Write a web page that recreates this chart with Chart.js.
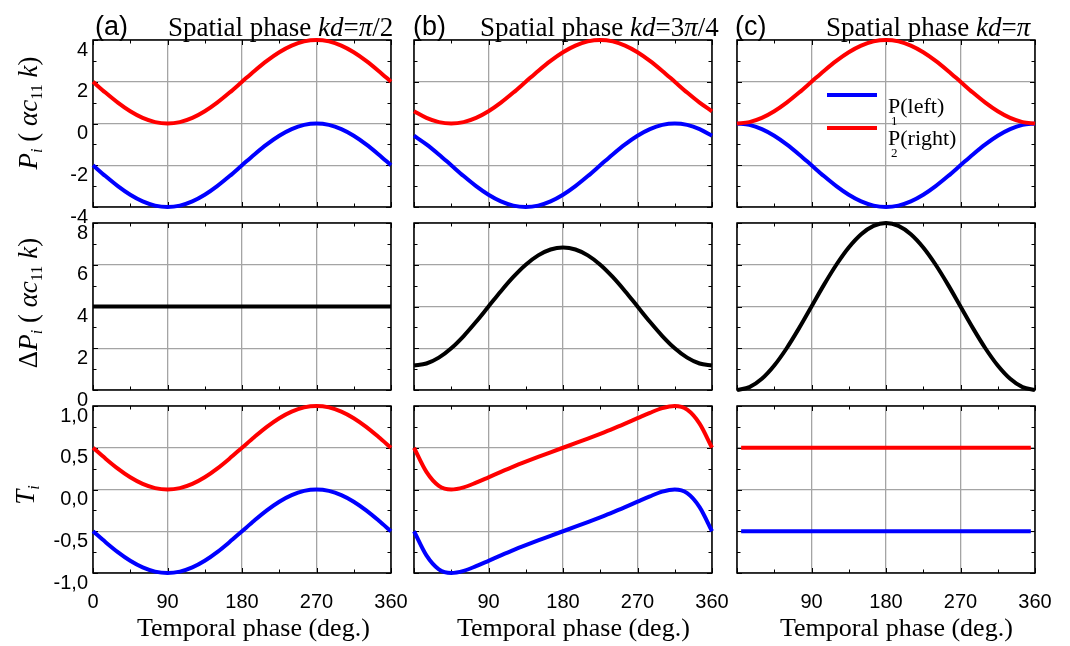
<!DOCTYPE html>
<html><head><meta charset="utf-8">
<script src="https://cdn.jsdelivr.net/npm/chart.js@4.4.1/dist/chart.umd.min.js"></script>
<style>
html,body{margin:0;padding:0;background:#fff;}
body{width:1070px;height:646px;position:relative;overflow:hidden;}
canvas{position:absolute;}
.t{position:absolute;white-space:nowrap;line-height:1;color:#000;}
.serif{font-family:"Liberation Serif","Times New Roman",serif;}
.sans{font-family:"Liberation Sans",Arial,sans-serif;}
.t sub{font-size:0.6em;vertical-align:-0.35em;line-height:0;}
.rot{transform:translate(-50%,-50%) rotate(-90deg);}
.leg{position:absolute;height:4px;width:50px;}
</style>
</head><body>
<script>
// ---------------- data ----------------
const phase = [0,15,30,45,60,75,90,105,120,135,150,165,180,195,210,225,240,255,270,285,300,315,330,345,360];
const phaseTc = [5,90,180,270,355];

const P2a = [2,1.482,1,0.586,0.268,0.068,0,0.068,0.268,0.586,1,1.482,2,2.518,3,3.414,3.732,3.932,4,3.932,3.732,3.414,3,2.518,2];
const P1a = [-2,-2.518,-3,-3.414,-3.732,-3.932,-4,-3.932,-3.732,-3.414,-3,-2.518,-2,-1.482,-1,-0.586,-0.268,-0.068,0,-0.068,-0.268,-0.586,-1,-1.482,-2];
const P2b = [0.586,0.268,0.068,0,0.068,0.268,0.586,1,1.482,2,2.518,3,3.414,3.732,3.932,4,3.932,3.732,3.414,3,2.518,2,1.482,1,0.586];
const P1b = [-0.586,-1,-1.482,-2,-2.518,-3,-3.414,-3.732,-3.932,-4,-3.932,-3.732,-3.414,-3,-2.518,-2,-1.482,-1,-0.586,-0.268,-0.068,0,-0.068,-0.268,-0.586];
const P2c = [0,0.068,0.268,0.586,1,1.482,2,2.518,3,3.414,3.732,3.932,4,3.932,3.732,3.414,3,2.518,2,1.482,1,0.586,0.268,0.068,0];
const P1c = [0,-0.068,-0.268,-0.586,-1,-1.482,-2,-2.518,-3,-3.414,-3.732,-3.932,-4,-3.932,-3.732,-3.414,-3,-2.518,-2,-1.482,-1,-0.586,-0.268,-0.068,0];

const dPa = [4,4,4,4,4,4,4,4,4,4,4,4,4,4,4,4,4,4,4,4,4,4,4,4,4];
const dPb = [1.172,1.268,1.55,2,2.586,3.268,4,4.732,5.414,6,6.449,6.732,6.828,6.732,6.449,6,5.414,4.732,4,3.268,2.586,2,1.55,1.268,1.172];
const dPc = [0,0.136,0.536,1.172,2,2.964,4,5.036,6,6.828,7.464,7.864,8,7.864,7.464,6.828,6,5.036,4,2.964,2,1.172,0.536,0.136,0];

const T2a = [0.5,0.371,0.25,0.146,0.067,0.017,0,0.017,0.067,0.146,0.25,0.371,0.5,0.629,0.75,0.854,0.933,0.983,1,0.983,0.933,0.854,0.75,0.629,0.5];
const T1a = [-0.5,-0.629,-0.75,-0.854,-0.933,-0.983,-1,-0.983,-0.933,-0.854,-0.75,-0.629,-0.5,-0.371,-0.25,-0.146,-0.067,-0.017,0,-0.017,-0.067,-0.146,-0.25,-0.371,-0.5];
const T2b = [0.5,0.211,0.044,0,0.026,0.082,0.146,0.211,0.274,0.333,0.39,0.446,0.5,0.554,0.61,0.667,0.726,0.789,0.854,0.918,0.974,1,0.956,0.789,0.5];
const T1b = [-0.5,-0.789,-0.956,-1,-0.974,-0.918,-0.854,-0.789,-0.726,-0.667,-0.61,-0.554,-0.5,-0.446,-0.39,-0.333,-0.274,-0.211,-0.146,-0.082,-0.026,0,-0.044,-0.211,-0.5];
const T2c = [0.5,0.5,0.5,0.5,0.5];
const T1c = [-0.5,-0.5,-0.5,-0.5,-0.5];

const xTicksA = ['0','90','180','270','360'];
const xTicksBC = ['','90','180','270','360'];
const pTicks = ['-4','-2','0','2','4'];
const dTicks = ['0','2','4','6','8'];
const tTicks = ['-1,0','-0,5','0,0','0,5','1,0'];
// -----------------------------------------------------------------

const RED = '#ff0000', BLUE = '#0000ff', BLACK = '#000000';
const GRID = '#a4a4a4';
const L = [93, 414, 737], W = 298;
const TOP = [40, 223, 406], H = 167;

const frame = {
  id: 'frame',
  beforeDatasetsDraw(chart) {
    const {ctx, chartArea: a, scales: {x, y}} = chart;
    ctx.save();
    ctx.strokeStyle = '#000';
    ctx.lineWidth = 1;
    const seg = (x1, y1, x2, y2) => { ctx.beginPath(); ctx.moveTo(x1, y1); ctx.lineTo(x2, y2); ctx.stroke(); };
    for (let v = 0; v <= 360; v += 45) {
      const px = Math.round(x.getPixelForValue(v)) + 0.5;
      const len = v % 90 === 0 ? 5 : 3.5;
      seg(px, a.bottom, px, a.bottom - len);
      seg(px, a.top, px, a.top + len);
    }
    const st = chart.options.scales.y.ticks.stepSize;
    const half = st / 2;
    for (let k = 0; ; k++) {
      const v = y.min + k * half;
      if (v > y.max + 1e-9) break;
      const py = Math.round(y.getPixelForValue(v)) + 0.5;
      const len = k % 2 === 0 ? 5 : 3.5;
      seg(a.left, py, a.left + len, py);
      seg(a.right, py, a.right - len, py);
    }
    ctx.lineWidth = 1.5;
    ctx.strokeRect(a.left, a.top, a.right - a.left, a.bottom - a.top);
    ctx.restore();
  }
};

function ds(xs, ys, color, label) {
  return {
    label: label || '',
    data: xs.map((v, i) => ({x: v, y: ys[i]})),
    borderColor: color, backgroundColor: color,
    borderWidth: 4, pointRadius: 0, fill: false,
    cubicInterpolationMode: 'monotone', clip: false
  };
}

function panel(col, row, datasets, yMin, yMax, yStep, yLabels) {
  const leftW = col === 0 ? 93 : 10;
  const padT = 15, padR = 20, botH = row === 2 ? 70 : 20;
  const c = document.createElement('canvas');
  const cw = leftW + W + padR, ch = padT + H + botH;
  c.width = cw; c.height = ch;
  c.style.width = cw + 'px'; c.style.height = ch + 'px';
  c.style.left = (L[col] - leftW) + 'px';
  c.style.top = (TOP[row] - padT) + 'px';
  document.body.appendChild(c);
  const xl = col === 0 ? xTicksA : xTicksBC;
  new Chart(c, {
    type: 'line',
    data: {datasets},
    options: {
      responsive: false, animation: false, devicePixelRatio: 1,
      layout: {padding: {top: padT, right: padR, left: 0, bottom: 0}},
      plugins: {legend: {display: false}, tooltip: {enabled: false}},
      scales: {
        x: {
          type: 'linear', min: 0, max: 360,
          afterFit: s => { s.height = botH; s.paddingLeft = 0; s.paddingRight = 0; },
          border: {display: false},
          grid: {color: GRID, lineWidth: 1.3, drawTicks: false},
          ticks: {
            display: row === 2, stepSize: 90, autoSkip: false, maxRotation: 0, minRotation: 0, padding: 17,
            color: '#000', font: {family: '"Liberation Sans", Arial, sans-serif', size: 20},
            callback: (v, i) => xl[i]
          }
        },
        y: {
          type: 'linear', min: yMin, max: yMax,
          afterFit: s => { s.width = leftW; s.paddingTop = 0; s.paddingBottom = 0; },
          border: {display: false},
          grid: {color: GRID, lineWidth: 1.3, drawTicks: false},
          ticks: {
            display: col === 0, stepSize: yStep, autoSkip: false, padding: 5, labelOffset: 10,
            color: '#000', font: {family: '"Liberation Sans", Arial, sans-serif', size: 20},
            callback: (v, i) => yLabels[i]
          }
        }
      }
    },
    plugins: [frame]
  });
}

panel(0, 0, [ds(phase, P2a, RED, 'P2(right)'), ds(phase, P1a, BLUE, 'P1(left)')], -4, 4, 2, pTicks);
panel(1, 0, [ds(phase, P2b, RED, 'P2(right)'), ds(phase, P1b, BLUE, 'P1(left)')], -4, 4, 2, pTicks);
panel(2, 0, [ds(phase, P2c, RED, 'P2(right)'), ds(phase, P1c, BLUE, 'P1(left)')], -4, 4, 2, pTicks);
panel(0, 1, [ds(phase, dPa, BLACK, 'ΔP')], 0, 8, 2, dTicks);
panel(1, 1, [ds(phase, dPb, BLACK, 'ΔP')], 0, 8, 2, dTicks);
panel(2, 1, [ds(phase, dPc, BLACK, 'ΔP')], 0, 8, 2, dTicks);
panel(0, 2, [ds(phase, T2a, RED, 'T2'), ds(phase, T1a, BLUE, 'T1')], -1, 1, 0.5, tTicks);
panel(1, 2, [ds(phase, T2b, RED, 'T2'), ds(phase, T1b, BLUE, 'T1')], -1, 1, 0.5, tTicks);
panel(2, 2, [ds(phaseTc, T2c, RED, 'T2'), ds(phaseTc, T1c, BLUE, 'T1')], -1, 1, 0.5, tTicks);

// ---------------- text ----------------
function txt(html, x, baseline, size, cls) {
  const d = document.createElement('div');
  d.className = 't ' + cls;
  d.style.fontSize = size + 'px';
  d.style.left = x + 'px';
  const k = cls.indexOf('sans') >= 0 ? 0.8465 : 0.8375;
  d.style.top = (baseline - k * size) + 'px';
  d.innerHTML = html;
  document.body.appendChild(d);
  return d;
}
function rtxt(html, cx, cy, size) {
  const d = document.createElement('div');
  d.className = 't serif rot';
  d.style.fontSize = size + 'px';
  d.style.left = cx + 'px';
  d.style.top = cy + 'px';
  d.innerHTML = html;
  document.body.appendChild(d);
}

txt('(a)', 95, 35.5, 27, 'sans');
txt('(b)', 413, 35.5, 27, 'sans');
txt('(c)', 735, 35.5, 27, 'sans');
txt('Spatial phase <i>kd</i>=<i>π</i>/2', 168, 36.5, 27, 'serif');
txt('Spatial phase <i>kd</i>=3<i>π</i>/4', 480, 36.5, 27, 'serif');
txt('Spatial phase <i>kd</i>=<i>π</i>', 826, 36.5, 27, 'serif');

txt('Temporal phase (deg.)', 137, 636.5, 26, 'serif');
txt('Temporal phase (deg.)', 457, 636.5, 26, 'serif');
txt('Temporal phase (deg.)', 780, 636.5, 26, 'serif');

rtxt('<i>P</i><sub><i>i</i></sub> ( <i>α</i><i>c</i><sub>11</sub> <i>k</i>)', 28, 113, 27);
rtxt('Δ<i>P</i><sub><i>i</i></sub> ( <i>α</i><i>c</i><sub>11</sub> <i>k</i>)', 28, 303, 27);
rtxt('<i>T</i><sub><i>i</i></sub>', 25, 495, 27);

// legend in panel (c)
const lb = document.createElement('div'); lb.className = 'leg';
lb.style.left = '827px'; lb.style.top = '93px'; lb.style.background = BLUE; document.body.appendChild(lb);
const lr = document.createElement('div'); lr.className = 'leg';
lr.style.left = '827px'; lr.style.top = '126px'; lr.style.background = RED; document.body.appendChild(lr);
txt('P(left)', 888, 113.5, 22, 'serif');
txt('1', 891, 125, 13, 'serif');
txt('P(right)', 888, 145.5, 22, 'serif');
txt('2', 891, 157, 13, 'serif');
</script>
</body></html>
